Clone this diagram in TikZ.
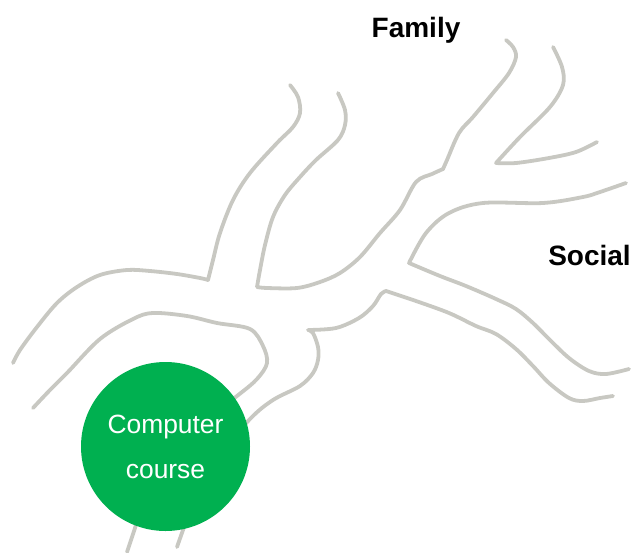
\documentclass[tikz,border=0pt]{standalone}
\usepackage{fontspec}
\setmainfont{Liberation Sans}
\usepackage{tikz}
\definecolor{twig}{RGB}{200,200,194}
\definecolor{leafgreen}{RGB}{0,176,80}

\begin{document}
\begin{tikzpicture}[x=0.5pt,y=-0.5pt,
  branch/.style={draw=twig,line width=1.9pt,line cap=round,line join=round},
  label/.style={font=\fontsize{14}{16}\selectfont\bfseries,anchor=base}]
\useasboundingbox (0,0) rectangle (632,552);
% left arm, upper edge
\draw[branch] plot[smooth,tension=0.55] coordinates {(290,85) (298,97) (300,113) (293,127) (277,143) (250,173) (233,200) (220,233) (213,260) (208,280)}
  -- plot[smooth,tension=0.55] coordinates {(208,280) (200,278) (177,274) (150,271) (127,270) (100,275) (77,287) (57,303) (37,327) (20,350) (13,363)};
% fork between left arm and trunk
\draw[branch] plot[smooth,tension=0.55] coordinates {(338,93) (345,110) (345,125) (338,140) (316,160) (300,177) (285,195) (273,217) (265,245) (260,270) (257,287)}
  -- plot[smooth,tension=0.55] coordinates {(257,287) (267,288) (297,288) (320,282) (340,273) (360,257) (380,233) (400,210) (416,182) (432,174) (443,169)}
  -- plot[smooth,tension=0.55] coordinates {(443,169) (447,160) (459,133) (473,117) (493,93) (509,73) (516,57) (513,47) (506,40)};
% small fork at the top right
\draw[branch] plot[smooth,tension=0.55] coordinates {(553,47) (562,67) (563,85) (550,107) (520,137) (496,163)}
  -- plot[smooth,tension=0.55] coordinates {(496,163) (516,163) (549,158) (576,152) (597,142)};
% fork between top right and right arm
\draw[branch] plot[smooth,tension=0.55] coordinates {(626,183) (600,192) (583,197) (543,203) (483,203) (449,213) (426,233) (409,263)}
  -- plot[smooth,tension=0.55] coordinates {(409,263) (440,276) (466,286) (496,299) (516,309) (533,323) (549,339) (569,358) (589,371) (606,374) (629,369)};
% right arm lower edge down into the trunk
\draw[branch] plot[smooth,tension=0.55] coordinates {(613,396) (600,398) (583,401) (569,398) (549,383) (533,366) (516,349) (496,334) (476,326) (449,313) (416,301) (386,291)}
  -- plot[smooth,tension=0.55] coordinates {(386,291) (381,294) (373,306) (359,318) (336,328) (308,330)}
  -- plot[smooth,tension=0.55] coordinates {(308,330) (313,333) (318,347) (318,360) (313,373) (300,386) (273,400) (250,419) (215,460) (192,505) (183,530) (177,547)};
% left arm lower edge down into the trunk
\draw[branch] plot[smooth,tension=0.55] coordinates {(33,408) (50,390) (67,373) (100,339) (133,319) (153,313) (187,316) (217,323) (250,329) (263,346) (267,363) (257,379) (237,396) (180,440) (150,480) (135,528) (127,552)};
\node[circle,fill=leafgreen,minimum size=84.5pt,inner sep=0pt,text=white,align=center,
  font=\fontsize{13.2}{22.5}\selectfont] (course) at (165.5,446.5) {Computer\\course};
\node[label] (family) at (416,37.3) {Family};
\node[label] (social) at (589.5,265.5) {Social};
\end{tikzpicture}
\end{document}
